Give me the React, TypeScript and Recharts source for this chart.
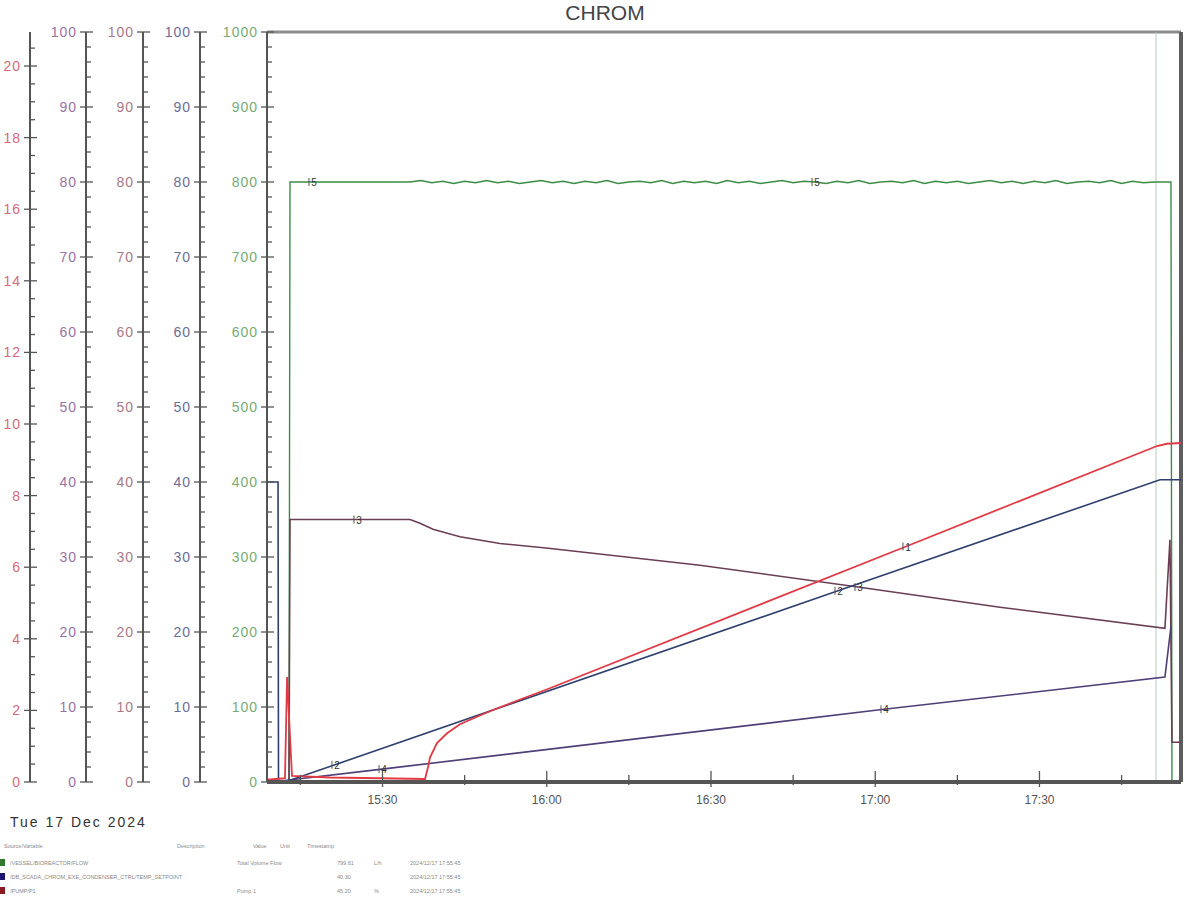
import { LineChart, Line, XAxis, YAxis, ReferenceLine } from 'recharts'

const W = 1201
const H = 901
const PLOT_BOTTOM = 782
const FONT = '"Liberation Sans", Arial, sans-serif'

// 'HH:MM[:SS]' -> minutes after midnight
const tm = (s: string) => {
  const [h, m, sec = '0'] = s.split(':')
  return +h * 60 + +m + +sec / 60
}
const range = (a: number, b: number, step: number) => {
  const out: number[] = []
  for (let v = a; v <= b + 1e-9; v += step) out.push(+v.toFixed(3))
  return out
}

const X_MIN = tm('15:08:54')
const X_MAX = tm('17:55:51')
const CURSOR = '17:51:17'

const xMajor = ['15:30', '16:00', '16:30', '17:00', '17:30']
const xMinor = ['15:15', '15:45', '16:15', '16:45', '17:15', '17:45']

// 1 - pump speed (red, %)
const pump = [
  { t: '15:08:54', v: 0.3 },
  { t: '15:12:11', v: 0.5 },
  { t: '15:12:34', v: 14 },
  { t: '15:13:28', v: 0.8 },
  { t: '15:20:25', v: 0.6 },
  { t: '15:29:33', v: 0.5 },
  { t: '15:37:46', v: 0.4 },
  { t: '15:38:19', v: 2 },
  { t: '15:38:41', v: 3.3 },
  { t: '15:39:57', v: 5.2 },
  { t: '15:41:47', v: 6.5 },
  { t: '15:44:09', v: 7.7 },
  { t: '15:47:16', v: 8.7 },
  { t: '15:50:11', v: 9.6 },
  { t: '15:55:07', v: 11 },
  { t: '15:59:52', v: 12.3 },
  { t: '17:05:37', v: 31.4, mark: '1' },
  { t: '17:51:28', v: 44.8 },
  { t: '17:53:17', v: 45.1 },
  { t: '17:55:51', v: 45.2 },
]

// 2 - temperature setpoint (dark blue)
const temp = [
  { t: '15:08:54', v: 40 },
  { t: '15:10:55', v: 40 },
  { t: '15:11:00', v: 0 },
  { t: '15:12:11', v: 0 },
  { t: '15:21:19', v: 2.3, mark: '2' },
  { t: '16:53:12', v: 25.5, mark: '2' },
  { t: '17:52:01', v: 40.3 },
  { t: '17:55:51', v: 40.3 },
]

// 3 - level (maroon)
const level = [
  { t: '15:08:54', v: 0 },
  { t: '15:12:55', v: 0 },
  { t: '15:13:06', v: 35 },
  { t: '15:25:20', v: 35, mark: '3' },
  { t: '15:35:01', v: 35 },
  { t: '15:36:51', v: 34.5 },
  { t: '15:39:13', v: 33.7 },
  { t: '15:44:09', v: 32.7 },
  { t: '15:51:28', v: 31.8 },
  { t: '15:59:52', v: 31.2 },
  { t: '16:27:59', v: 28.9 },
  { t: '16:56:51', v: 26.0, mark: '3' },
  { t: '17:22:47', v: 23.3 },
  { t: '17:52:55', v: 20.5 },
  { t: '17:53:50', v: 32.3 },
  { t: '17:54:12', v: 5.3 },
  { t: '17:55:51', v: 5.3 },
]

// 4 - pressure (purple, 0-20 bar)
const pressure = [
  { t: '15:08:54', v: 0.04 },
  { t: '15:12:11', v: 0.04 },
  { t: '15:29:55', v: 0.36, mark: '4' },
  { t: '17:01:36', v: 2.03, mark: '4' },
  { t: '17:52:55', v: 2.93 },
  { t: '17:54:01', v: 4.34 },
]

// 5 - total volume flow (green, 0-1000)
const flow = [
  { t: '15:08:54', v: 0 },
  { t: '15:12:55', v: 0 },
  { t: '15:13:06', v: 800 },
  { t: '15:17:07', v: 800, mark: '5' },
  { t: '15:35:01', v: 800 },
  { t: '15:37', v: 802 }, { t: '15:39', v: 799 }, { t: '15:41', v: 801 },
  { t: '15:43', v: 798 }, { t: '15:45', v: 801 }, { t: '15:47', v: 799 },
  { t: '15:49', v: 802 }, { t: '15:51', v: 799 }, { t: '15:53', v: 801 },
  { t: '15:55', v: 798 }, { t: '15:57', v: 800 }, { t: '15:59', v: 802 },
  { t: '16:01', v: 799 }, { t: '16:03', v: 801 }, { t: '16:05', v: 798 },
  { t: '16:07', v: 801 }, { t: '16:09', v: 799 }, { t: '16:11', v: 802 },
  { t: '16:13', v: 798 }, { t: '16:15', v: 800 }, { t: '16:17', v: 801 },
  { t: '16:19', v: 799 }, { t: '16:21', v: 802 }, { t: '16:23', v: 798 },
  { t: '16:25', v: 801 }, { t: '16:27', v: 799 }, { t: '16:29', v: 801 },
  { t: '16:31', v: 798 }, { t: '16:33', v: 802 }, { t: '16:35', v: 799 },
  { t: '16:37', v: 801 }, { t: '16:39', v: 798 }, { t: '16:41', v: 800 },
  { t: '16:43', v: 802 }, { t: '16:45', v: 799 }, { t: '16:47', v: 801 },
  { t: '16:49', v: 800, mark: '5' },
  { t: '16:51', v: 798 }, { t: '16:53', v: 801 }, { t: '16:55', v: 799 },
  { t: '16:57', v: 802 }, { t: '16:59', v: 798 }, { t: '17:01', v: 800 },
  { t: '17:03', v: 801 }, { t: '17:05', v: 799 }, { t: '17:07', v: 802 },
  { t: '17:09', v: 798 }, { t: '17:11', v: 801 }, { t: '17:13', v: 799 },
  { t: '17:15', v: 801 }, { t: '17:17', v: 798 }, { t: '17:19', v: 800 },
  { t: '17:21', v: 802 }, { t: '17:23', v: 799 }, { t: '17:25', v: 801 },
  { t: '17:27', v: 798 }, { t: '17:29', v: 801 }, { t: '17:31', v: 799 },
  { t: '17:33', v: 802 }, { t: '17:35', v: 798 }, { t: '17:37', v: 800 },
  { t: '17:39', v: 801 }, { t: '17:41', v: 799 }, { t: '17:43', v: 802 },
  { t: '17:45', v: 798 }, { t: '17:47', v: 801 }, { t: '17:49', v: 799 },
  { t: '17:51', v: 800 },
  { t: '17:54:01', v: 800 },
  { t: '17:54:12', v: 0 },
  { t: '17:55:51', v: 0 },
]

const legendRows = [
  { color: '#2f7a2f', name: '/VESSEL/BIOREACTOR/FLOW', desc: 'Total Volume Flow', value: '799.61', unit: 'L/h', ts: '2024/12/17 17:55:45' },
  { color: '#1c1470', name: '/DB_SCADA_CHROM_EXE_CONDENSER_CTRL/TEMP_SETPOINT', desc: '', value: '40.30', unit: '', ts: '2024/12/17 17:55:45' },
  { color: '#8a1a22', name: '/PUMP/P1', desc: 'Pump 1', value: '45.20', unit: '%', ts: '2024/12/17 17:55:45' },
]

const prep = (arr: any[]) => arr.map((d) => ({ ...d, t: tm(d.t) }))

// axis line x is known from the fixed axis widths; minor ticks point into the right
function yTick(lineX: number, step: number, color: string) {
  return (props: any) => {
    const { y, payload } = props
    const v = payload.value
    const major = Math.abs(v / step - Math.round(v / step)) < 1e-6
    return (
      <g>
        <line x1={major ? lineX - 6 : lineX} x2={lineX + (major ? 7 : 5)} y1={y} y2={y} stroke="#555" strokeWidth={1.3} />
        {major && (
          <text x={lineX - 9} y={y} dy={5} textAnchor="end" fill={color} fontSize={14} letterSpacing={1} fontFamily={FONT}>
            {v}
          </text>
        )}
      </g>
    )
  }
}

function xTick(props: any) {
  const { x, payload } = props
  const label = xMajor.find((s) => Math.abs(tm(s) - payload.value) < 1e-6)
  return (
    <g>
      <line x1={x} x2={x} y1={PLOT_BOTTOM - (label ? 11 : 7)} y2={PLOT_BOTTOM + (label ? 5 : 3)} stroke="#555" strokeWidth={1.3} />
      {label && (
        <text x={x} y={PLOT_BOTTOM + 22} textAnchor="middle" fill="#555" fontSize={12} fontFamily={FONT}>{label}</text>
      )}
    </g>
  )
}

function markDot(props: any) {
  const { cx, cy, payload, index } = props
  if (!payload.mark) return <g key={index} />
  return (
    <g key={index}>
      <line x1={cx - 3} x2={cx - 3} y1={cy - 4} y2={cy + 4} stroke="#555" strokeWidth={1} />
      <text x={cx + 2} y={cy + 4} textAnchor="middle" fontSize={10} fill="#333" fontFamily={FONT}>{payload.mark}</text>
    </g>
  )
}

export default function App() {
  const xTicks = [...xMajor, ...xMinor].map(tm).sort((a, b) => a - b)
  const axisLine = { stroke: '#555', strokeWidth: 2 }
  return (
    <div style={{ position: 'absolute', left: 0, top: 0, width: W, height: H, background: '#fff', fontFamily: FONT }}>
      <LineChart width={W} height={H} margin={{ top: 32, right: 20, bottom: 89, left: 0 }}>
        <XAxis dataKey="t" type="number" domain={[X_MIN, X_MAX]} allowDataOverflow ticks={xTicks} interval={0}
          height={30} tickLine={false} axisLine={{ stroke: '#555', strokeWidth: 4 }} tick={xTick} />
        <YAxis yAxisId="a1" domain={[0, 1000]} ticks={range(0, 1000, 20)} interval={0} width={67}
          tickLine={false} axisLine={axisLine} tick={yTick(267, 100, '#76ac74')} />
        <YAxis yAxisId="a2" domain={[0, 100]} ticks={range(0, 100, 2)} interval={0} width={57}
          tickLine={false} axisLine={axisLine} tick={yTick(200, 10, '#6a6e98')} />
        <YAxis yAxisId="a3" domain={[0, 100]} ticks={range(0, 100, 2)} interval={0} width={57}
          tickLine={false} axisLine={axisLine} tick={yTick(143, 10, '#a87a88')} />
        <YAxis yAxisId="a4" domain={[0, 100]} ticks={range(0, 100, 2)} interval={0} width={56}
          tickLine={false} axisLine={axisLine} tick={yTick(86, 10, '#9a72a6')} />
        <YAxis yAxisId="a5" domain={[0, 20.95]} allowDataOverflow ticks={range(0, 20.5, 0.5)} interval={0} width={30}
          tickLine={false} axisLine={axisLine} tick={yTick(30, 2, '#d66a78')} />

        <ReferenceLine yAxisId="a1" y={1000} stroke="#8c8c8c" strokeWidth={3} />
        <ReferenceLine yAxisId="a1" x={tm(CURSOR)} stroke="#b5cbbd" strokeWidth={1} />
        <ReferenceLine yAxisId="a1" x={X_MAX} stroke="#5e5e5e" strokeWidth={4} />

        <Line yAxisId="a1" data={prep(flow)} dataKey="v" type="linear" stroke="#3c8c46" strokeWidth={1.4} dot={markDot} activeDot={false} isAnimationActive={false} />
        <Line yAxisId="a4" data={prep(level)} dataKey="v" type="linear" stroke="#6a3f55" strokeWidth={1.6} dot={markDot} activeDot={false} isAnimationActive={false} />
        <Line yAxisId="a5" data={prep(pressure)} dataKey="v" type="linear" stroke="#4e3f78" strokeWidth={1.6} dot={markDot} activeDot={false} isAnimationActive={false} />
        <Line yAxisId="a2" data={prep(temp)} dataKey="v" type="linear" stroke="#2f3f6e" strokeWidth={1.6} dot={markDot} activeDot={false} isAnimationActive={false} />
        <Line yAxisId="a3" data={prep(pump)} dataKey="v" type="linear" stroke="#e23a44" strokeWidth={1.8} dot={markDot} activeDot={false} isAnimationActive={false} />
      </LineChart>

      <svg width={W} height={H} style={{ position: 'absolute', left: 0, top: 0, pointerEvents: 'none' }}>
        <text x={605} y={20} textAnchor="middle" fontSize={21} fill="#444" fontFamily={FONT}>CHROM</text>
        <text x={10} y={827} fontSize={14} letterSpacing={2} fill="#333" fontFamily={FONT}>Tue 17 Dec 2024</text>
        <g fontSize={5.5} fill="#8a8a8a" fontFamily={FONT}>
          <text x={4} y={848}>Source/Variable</text>
          <text x={177} y={848}>Description</text>
          <text x={253} y={848}>Value</text>
          <text x={280} y={848}>Unit</text>
          <text x={307} y={848}>Timestamp</text>
          {legendRows.map((r, i) => (
            <g key={i}>
              <rect x={0} y={859 + i * 14} width={5} height={7} fill={r.color} />
              <text x={10} y={865 + i * 14}>{r.name}</text>
              <text x={237} y={865 + i * 14}>{r.desc}</text>
              <text x={337} y={865 + i * 14}>{r.value}</text>
              <text x={374} y={865 + i * 14}>{r.unit}</text>
              <text x={410} y={865 + i * 14}>{r.ts}</text>
            </g>
          ))}
        </g>
      </svg>
    </div>
  )
}
